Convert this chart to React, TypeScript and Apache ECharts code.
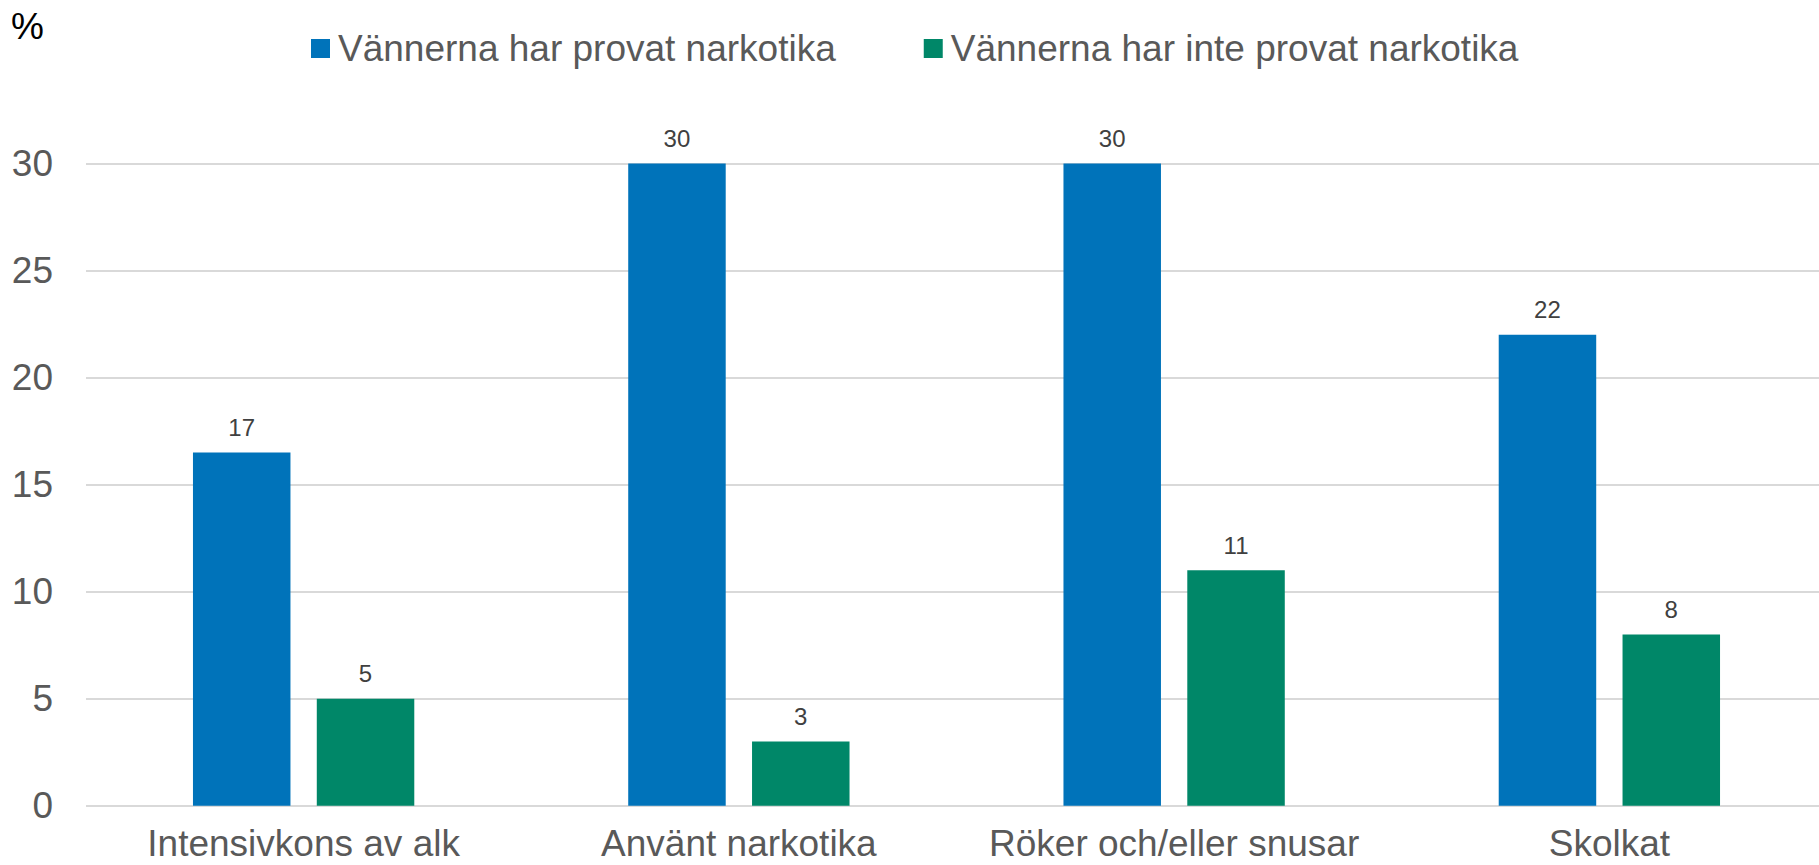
import React, { useEffect, useRef } from "react";
import * as echarts from "echarts";

const categories = ["Intensivkons av alk", "Använt narkotika", "Röker och/eller snusar", "Skolkat"];
const seriesNames = ["Vännerna har provat narkotika", "Vännerna har inte provat narkotika"];
const friendsTried = [16.5, 30, 30, 22];
const friendsNotTried = [5, 3, 11, 8];
const yTicks = { min: 0, max: 30, interval: 5 };

const FONT = "'Liberation Sans', Arial, sans-serif";

export default function App() {
  const ref = useRef<HTMLDivElement>(null);
  useEffect(() => {
    if (!ref.current) return;
    const chart = echarts.init(ref.current, undefined, { renderer: "svg" });
    const labelCfg = {
      show: true,
      position: "top",
      distance: 13,
      color: "#404040",
      fontSize: 24,
      fontFamily: FONT,
      formatter: (p: any) => String(Math.round(p.value)),
    };
    chart.setOption({
      animation: false,
      backgroundColor: "#ffffff",
      textStyle: { fontFamily: FONT },
      graphic: [
        {
          type: "text",
          left: 11,
          top: 8,
          style: { text: "%", fontSize: 37, fontFamily: FONT, fill: "#000000" },
        },
      ],
      legend: {
        left: 306,
        top: 25,
        itemWidth: 19,
        itemHeight: 19,
        itemGap: 88,
        icon: "rect",
        textStyle: { fontSize: 37, color: "#595959", fontFamily: FONT, padding: [0, 0, 0, 3] },
        data: seriesNames,
      },
      grid: { left: 86, top: 163.5, width: 1741, bottom: 59.3, containLabel: false },
      xAxis: {
        type: "category",
        data: categories,
        axisLine: { show: false },
        axisTick: { show: false },
        axisLabel: { fontSize: 37, color: "#595959", fontFamily: FONT, margin: 19, interval: 0 },
      },
      yAxis: {
        type: "value",
        min: yTicks.min,
        max: yTicks.max,
        interval: yTicks.interval,
        axisLine: { show: false },
        axisTick: { show: false },
        axisLabel: { fontSize: 37, color: "#595959", fontFamily: FONT, margin: 33 },
        splitLine: { lineStyle: { color: "#d9d9d9", width: 2 } },
      },
      series: [
        {
          name: seriesNames[0],
          type: "bar",
          data: friendsTried,
          barWidth: "22.4%",
          barGap: "27%",
          itemStyle: { color: "#0073BA" },
          label: labelCfg,
        },
        {
          name: seriesNames[1],
          type: "bar",
          data: friendsNotTried,
          barWidth: "22.4%",
          itemStyle: { color: "#008768" },
          label: labelCfg,
        },
      ],
    });
    return () => chart.dispose();
  }, []);
  return (
    <div
      ref={ref}
      style={{ position: "fixed", left: 0, top: 0, width: 1830, height: 865, background: "#fff" }}
    />
  );
}
